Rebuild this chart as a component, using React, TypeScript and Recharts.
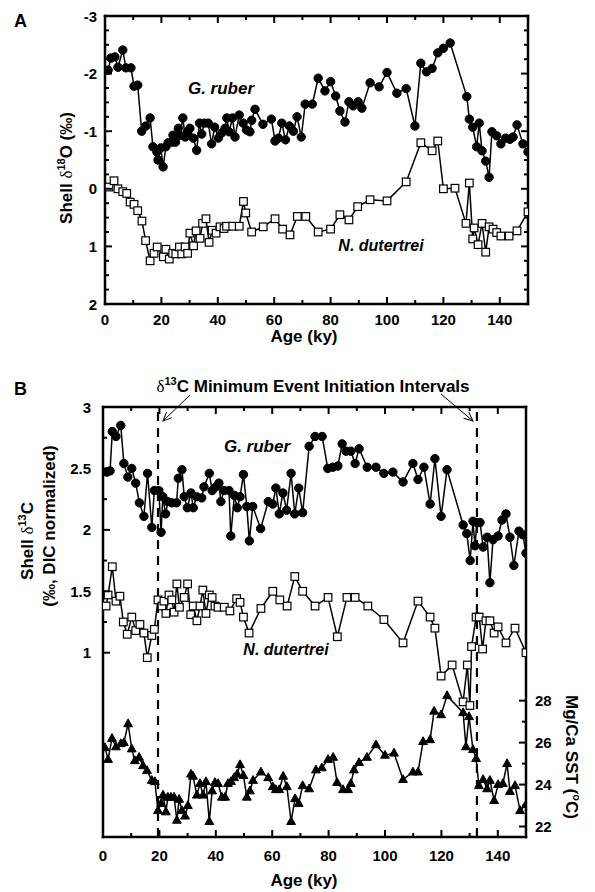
import React from "react";
import { LineChart, Line, XAxis, YAxis, ReferenceLine } from "recharts";

const FONT = '"Liberation Sans", Arial, Helvetica, sans-serif';
const SERIF = '"Liberation Serif", "DejaVu Serif", serif';

// ---- axes ----
const ageTicks = [0, 10, 20, 30, 40, 50, 60, 70, 80, 90, 100, 110, 120, 130, 140, 150];
const d18Ticks = [-3, -2.75, -2.5, -2.25, -2, -1.75, -1.5, -1.25, -1, -0.75, -0.5, -0.25, 0, 0.25, 0.5, 0.75, 1, 1.25, 1.5, 1.75, 2];
const d13Ticks = [1, 1.25, 1.5, 1.75, 2, 2.25, 2.5, 2.75, 3];
const sstTicks = [22, 23, 24, 25, 26, 27, 28];

// dashed event lines (ky)
const eventAges = [19.5, 132.6];

// ---- panel A: shell d18O ----
const ageRuberA = [1.1, 2.1, 3.5, 4.6, 6.3, 7.4, 9.2, 10.3, 11.6, 13, 14.5, 16, 17, 18.4, 18.8, 19.8, 20.6, 21.6, 22.4, 23.8, 24.1, 25, 26, 26.6, 27.6, 28.4, 29.3, 30.1, 31.3, 32.5, 33.5, 34.3, 35.2, 36.6, 37.8, 38.9, 40.2, 41.4, 42.6, 43.2, 44, 45.2, 46.1, 47.6, 49, 50.2, 51.4, 52, 53.2, 56, 59, 60.3, 61.5, 62.7, 64, 65.4, 66.8, 68.1, 69.6, 71, 73.5, 75.6, 78, 80, 81.8, 83.3, 85.1, 86.5, 88, 89.8, 91.1, 94, 97.2, 100, 103.5, 106.8, 109.9, 112, 114, 116, 118, 120, 122.4, 128.3, 129.2, 130.4, 131.8, 132.7, 133.7, 135, 136.2, 137.2, 138.9, 140.4, 142.1, 143.6, 144.7, 146.1, 148.2, 150];
const d18RuberA = [-2.06, -2.27, -2.29, -2.11, -2.41, -2.1, -2.1, -1.78, -1.8, -1.0, -1.09, -1.23, -0.73, -0.64, -0.5, -0.71, -0.38, -0.73, -0.8, -0.81, -0.93, -0.81, -1.05, -0.93, -1.23, -0.9, -0.99, -1.05, -0.88, -0.67, -1.14, -0.95, -1.14, -1.14, -0.78, -1.07, -0.88, -0.97, -1.05, -1.23, -0.99, -1.23, -0.9, -1.28, -1.14, -1.02, -0.99, -1.19, -1.38, -1.12, -1.21, -0.83, -0.88, -1.14, -0.85, -1.09, -1.0, -1.25, -0.9, -1.47, -1.47, -1.92, -1.7, -1.86, -1.61, -1.35, -1.16, -1.51, -1.44, -1.51, -1.4, -1.84, -1.77, -2.02, -1.66, -1.74, -1.09, -2.18, -2.03, -2.09, -2.36, -2.44, -2.53, -1.6, -1.21, -1.07, -0.73, -1.14, -0.66, -0.48, -0.2, -0.99, -0.92, -0.78, -0.88, -0.86, -0.9, -1.11, -0.78, -0.64];

const ageDutA = [1.4, 3.2, 4.6, 6.3, 7.7, 8.9, 10.3, 11.6, 13.1, 14.4, 16, 17.4, 18.5, 20.7, 21.6, 22.8, 24, 25.1, 26.4, 27.2, 28.4, 29.3, 30.1, 31.4, 32.3, 33.7, 34.6, 35.8, 36.9, 38, 39.4, 40.8, 42.2, 43.1, 45.3, 47.6, 49.1, 49.9, 52, 56.1, 60.3, 63, 65.6, 68.2, 71.2, 75.6, 80, 83.3, 86.5, 89.6, 94, 100, 106.8, 112, 116, 118, 120, 124.1, 128, 129.2, 130.4, 130.9, 132.3, 133.7, 135, 136.2, 137.6, 138.9, 140.4, 143.3, 146.1, 150];
const d18DutA = [-0.03, -0.14, 0, 0.05, 0.08, 0.23, 0.27, 0.38, 0.56, 0.9, 1.25, 1.12, 1.01, 1.18, 1.05, 1.22, 1.12, 1.13, 1.01, 1.13, 1.01, 1.12, 0.77, 0.99, 0.73, 0.86, 0.6, 0.52, 0.93, 0.72, 0.77, 0.66, 0.69, 0.65, 0.65, 0.65, 0.22, 0.42, 0.75, 0.66, 0.52, 0.7, 0.8, 0.48, 0.48, 0.75, 0.7, 0.45, 0.54, 0.31, 0.19, 0.21, -0.12, -0.8, -0.66, -0.83, 0, -0.01, 0.6, -0.1, 0.87, 0.68, 0.97, 0.6, 1.1, 0.66, 0.7, 0.76, 0.82, 0.82, 0.73, 0.4];

// ---- panel B: shell d13C and Mg/Ca SST ----
const ageRuberB = [1.4, 2.5, 3.3, 4.6, 6.3, 7.4, 8.8, 10.2, 11.6, 12.9, 14.5, 15.8, 17.3, 18.2, 19.8, 20.6, 21.2, 22.2, 23, 24.4, 26.1, 26.7, 28, 28.8, 29.9, 31.2, 32, 33.2, 35, 35.8, 37.7, 38.7, 40, 41.1, 41.8, 42.9, 44.7, 45.3, 46.6, 47.6, 48.6, 49.8, 51, 51.9, 53.1, 55.9, 58.6, 60.2, 61.3, 62.5, 63.8, 65.1, 66.7, 68, 69.4, 70.8, 73.1, 75.2, 77.7, 79.7, 81.5, 83.3, 84.8, 86.2, 87.9, 89.4, 90.8, 93.7, 96.8, 99.6, 102.8, 106.4, 109.9, 111.7, 113.8, 116, 117.7, 119.9, 122, 127.7, 129, 130.2, 131.2, 131.9, 132.6, 133.7, 134.8, 136.2, 137.2, 138.3, 140.1, 141.5, 142.9, 144.3, 145.7, 147.5, 148.9, 150];
const d13RuberB = [2.47, 2.48, 2.8, 2.76, 2.85, 2.54, 2.43, 2.5, 2.38, 2.22, 2.11, 2.46, 2.02, 2.32, 2.32, 1.98, 2.27, 2.13, 2.23, 2.22, 2.22, 2.42, 2.49, 2.27, 2.18, 2.3, 2.18, 2.27, 2.26, 2.35, 2.46, 2.32, 2.35, 2.38, 2.23, 2.32, 2.32, 1.95, 2.28, 2.18, 2.27, 2.45, 2.19, 1.91, 2.19, 2.01, 2.23, 2.21, 2.34, 2.13, 2.3, 2.16, 2.46, 2.13, 2.34, 2.14, 2.68, 2.76, 2.76, 2.5, 2.51, 2.52, 2.7, 2.64, 2.64, 2.54, 2.66, 2.51, 2.51, 2.46, 2.47, 2.39, 2.54, 2.41, 2.51, 2.21, 2.58, 2.11, 2.49, 2.04, 1.97, 1.75, 2.07, 1.87, 2.06, 2.06, 1.86, 1.94, 1.57, 1.92, 1.95, 2.08, 2.13, 1.94, 1.71, 1.99, 1.96, 1.81];

const ageDutB = [1.1, 1.8, 3.3, 4.6, 6, 7.2, 8.6, 10.2, 11.6, 13.1, 14.5, 15.7, 17.3, 18.2, 19.5, 20.9, 21.6, 22.3, 23.4, 24.4, 25.2, 26.2, 27.1, 28.8, 30, 31.1, 32, 33.3, 34.4, 35.4, 36.5, 37.7, 38.7, 39.7, 40.8, 43, 45, 47.4, 48.6, 49.8, 51.8, 56, 60.2, 62.7, 65.3, 68, 70.8, 75.2, 79.8, 83.1, 86.5, 89.4, 93.9, 99.6, 106.4, 111.7, 116, 117.7, 119.9, 123.8, 127.7, 129.2, 130.1, 130.7, 132.3, 133.4, 134.6, 135.8, 137.2, 138.7, 140.1, 142.9, 146.1, 150];
const d13DutB = [1.38, 1.47, 1.7, 1.42, 1.46, 1.25, 1.15, 1.29, 1.18, 1.23, 1.16, 0.96, 1.14, 1.19, 1.43, 1.38, 1.42, 1.32, 1.47, 1.43, 1.33, 1.56, 1.37, 1.45, 1.56, 1.31, 1.38, 1.26, 1.38, 1.51, 1.32, 1.47, 1.45, 1.38, 1.37, 1.37, 1.34, 1.44, 1.41, 1.29, 1.16, 1.36, 1.5, 1.43, 1.38, 1.62, 1.5, 1.38, 1.45, 1.13, 1.45, 1.45, 1.38, 1.27, 1.08, 1.42, 1.29, 1.2, 0.81, 0.9, 0.6, 0.9, 0.57, 1.05, 1.29, 1.29, 1.03, 1.26, 1.26, 1.16, 1.21, 1.08, 1.2, 1.0];

const ageSst = [0.7, 1.8, 3.2, 4.6, 6.3, 7.4, 8.9, 10.2, 11.3, 12.8, 14.2, 15.6, 17.3, 18.4, 19.5, 20.6, 21.3, 22.3, 23, 24.1, 25.2, 26.2, 27, 28, 29.1, 30.1, 31.2, 31.9, 33.3, 34.4, 35.5, 36.5, 37.7, 38.7, 39.7, 40.8, 42.2, 43.3, 44.3, 45.4, 46.5, 47.6, 48.6, 49.8, 51, 52.1, 53.2, 56, 58.6, 60.2, 61.3, 62.5, 63.9, 65.2, 66.7, 68.1, 69.4, 70.8, 73.1, 75.5, 77.6, 79.8, 81.6, 83, 85.1, 86.9, 87.9, 89, 90.8, 93.6, 96.8, 100, 103.2, 106.4, 109.9, 111.7, 113.5, 116, 117.4, 119.9, 122, 127.7, 128.7, 129.8, 131.2, 132.3, 133.3, 134.8, 136.2, 137.2, 138.7, 140.1, 141.8, 143.3, 144.3, 146.1, 147.9, 150];
const sst = [25.76, 25.2, 26.2, 25.8, 25.95, 26.0, 26.9, 25.7, 25.14, 25.3, 24.9, 24.67, 24.2, 24.14, 22.76, 23.1, 23.5, 22.7, 23.4, 23.4, 23.4, 22.3, 23.3, 22.76, 22.5, 23.0, 24.5, 24.4, 23.5, 24.05, 23.5, 24.14, 22.24, 23.7, 24.1, 24.05, 23.4, 23.4, 24.05, 24.14, 24.33, 24.5, 24.95, 24.43, 23.4, 23.7, 24.2, 24.6, 24.33, 23.9, 23.76, 23.76, 24.4, 23.9, 22.24, 23.33, 23.1, 23.95, 23.8, 24.7, 24.8, 25.2, 25.3, 24.1, 23.76, 23.76, 24.05, 24.7, 25.05, 25.3, 25.9, 25.4, 25.5, 24.24, 24.6, 24.6, 26.05, 26.14, 27.5, 27.33, 28.24, 27.43, 25.8, 27.24, 25.67, 25.24, 23.95, 24.24, 23.8, 24.2, 23.24, 24.0, 24.05, 25.0, 23.67, 23.95, 22.76, 23.05];

const pairs = (ages: number[], vals: number[]) => ages.map((age, i) => ({ age, v: vals[i] }));

type Side = "bottom" | "top" | "left" | "right";
const isMult = (v: number, m: number) => Math.abs(v / m - Math.round(v / m)) < 1e-6;

// ticks point into the plot; only majors get a label
function makeTick(side: Side, majorEvery: number, showLabel: boolean, gap = 8) {
  return (props: any) => {
    const { x, y, payload } = props;
    const v = Number(payload.value);
    const major = isMult(v, majorEvery);
    const len = major ? 7 : 4;
    let x2 = x;
    let y2 = y;
    if (side === "bottom") y2 = y - len;
    if (side === "top") y2 = y + len;
    if (side === "left") x2 = x + len;
    if (side === "right") x2 = x - len;
    let label = null;
    if (showLabel && major) {
      const tx = side === "left" ? x - gap : side === "right" ? x + gap : x;
      const ty = side === "bottom" ? y + gap : y + 5.5;
      const anchor = side === "left" ? "end" : side === "right" ? "start" : "middle";
      label = (
        <text x={tx} y={ty} textAnchor={anchor} fontFamily={FONT} fontWeight="bold" fontSize={15} fill="#000">
          {String(v)}
        </text>
      );
    }
    return (
      <g>
        <line x1={x} y1={y} x2={x2} y2={y2} stroke="#000" strokeWidth={2} />
        {label}
      </g>
    );
  };
}

const axisLine = { stroke: "#000", strokeWidth: 2.5, strokeLinecap: "square" as const };

const Circle = (p: any) =>
  p.cx == null ? null : <circle key={`c${p.index}`} cx={p.cx} cy={p.cy} r={4.2} fill="#000" stroke="#000" />;
const Square = (p: any) =>
  p.cx == null ? null : (
    <rect key={`s${p.index}`} x={p.cx - 3.8} y={p.cy - 3.8} width={7.6} height={7.6} fill="#fff" stroke="#000" strokeWidth={1.2} />
  );
const Triangle = (p: any) =>
  p.cx == null ? null : (
    <polygon
      key={`t${p.index}`}
      points={`${p.cx},${p.cy - 4.8} ${p.cx + 4.4},${p.cy + 3} ${p.cx - 4.4},${p.cy + 3}`}
      fill="#000"
      stroke="#000"
    />
  );

function PanelA() {
  return (
    <LineChart width={595} height={345} margin={{ top: 0, right: 0, bottom: 0, left: 0 }}>
      <XAxis xAxisId="b" type="number" dataKey="age" domain={[0, 150]} ticks={ageTicks} interval={0} allowDataOverflow
        height={41} axisLine={axisLine} tickLine={false} tickSize={0} tickMargin={0} tick={makeTick("bottom", 20, true, 21)} />
      <XAxis xAxisId="t" orientation="top" type="number" dataKey="age" domain={[0, 150]} ticks={ageTicks} interval={0} allowDataOverflow
        height={16} axisLine={axisLine} tickLine={false} tickSize={0} tickMargin={0} tick={makeTick("top", 20, false)} />
      <YAxis yAxisId="l" type="number" domain={[-3, 2]} reversed ticks={d18Ticks} interval={0} allowDataOverflow
        width={105} axisLine={axisLine} tickLine={false} tickSize={0} tickMargin={0} tick={makeTick("left", 1, true, 8)} />
      <YAxis yAxisId="r" orientation="right" type="number" domain={[-3, 2]} reversed ticks={d18Ticks} interval={0} allowDataOverflow
        width={67} axisLine={axisLine} tickLine={false} tickSize={0} tickMargin={0} tick={makeTick("right", 1, false)} />
      <Line xAxisId="b" yAxisId="l" data={pairs(ageDutA, d18DutA)} dataKey="v" type="linear" stroke="#000" strokeWidth={1.5}
        dot={Square} isAnimationActive={false} />
      <Line xAxisId="b" yAxisId="l" data={pairs(ageRuberA, d18RuberA)} dataKey="v" type="linear" stroke="#000" strokeWidth={1.5}
        dot={Circle} isAnimationActive={false} />
    </LineChart>
  );
}

function PanelB() {
  return (
    <LineChart width={595} height={532} margin={{ top: 31, right: 0, bottom: 0, left: 0 }}>
      <XAxis xAxisId="b" type="number" dataKey="age" domain={[0, 150]} ticks={ageTicks} interval={0} allowDataOverflow
        height={55} axisLine={axisLine} tickLine={false} tickSize={0} tickMargin={0} tick={makeTick("bottom", 20, true, 24)} />
      <XAxis xAxisId="t" orientation="top" type="number" dataKey="age" domain={[0, 150]} ticks={ageTicks} interval={0} allowDataOverflow
        height={16} axisLine={axisLine} tickLine={false} tickSize={0} tickMargin={0} tick={makeTick("top", 20, false)} />
      <YAxis yAxisId="l" type="number" domain={[-0.5, 3]} ticks={d13Ticks} interval={0} allowDataOverflow
        width={103} axisLine={axisLine} tickLine={false} tickSize={0} tickMargin={0} tick={makeTick("left", 0.5, true, 12)} />
      <YAxis yAxisId="r" orientation="right" type="number" domain={[21.5, 42]} ticks={sstTicks} interval={0} allowDataOverflow
        width={69} axisLine={axisLine} tickLine={false} tickSize={0} tickMargin={0} tick={makeTick("right", 2, true, 9)} />
      {eventAges.map((a) => (
        <ReferenceLine key={a} xAxisId="b" yAxisId="l" x={a} stroke="#000" strokeWidth={2.2} strokeDasharray="9 7" />
      ))}
      <Line xAxisId="b" yAxisId="r" data={pairs(ageSst, sst)} dataKey="v" type="linear" stroke="#000" strokeWidth={1.5}
        dot={Triangle} isAnimationActive={false} />
      <Line xAxisId="b" yAxisId="l" data={pairs(ageDutB, d13DutB)} dataKey="v" type="linear" stroke="#000" strokeWidth={1.5}
        dot={Square} isAnimationActive={false} />
      <Line xAxisId="b" yAxisId="l" data={pairs(ageRuberB, d13RuberB)} dataKey="v" type="linear" stroke="#000" strokeWidth={1.5}
        dot={Circle} isAnimationActive={false} />
    </LineChart>
  );
}

function Labels() {
  const bold = { fontFamily: FONT, fontWeight: "bold" as const, fill: "#000" };
  const it = { ...bold, fontStyle: "italic" as const };
  return (
    <svg width={595} height={892} style={{ position: "absolute", left: 0, top: 0, pointerEvents: "none" }}>
      <defs>
        <marker id="arr" markerWidth="10" markerHeight="10" refX="9" refY="5" orient="auto" markerUnits="userSpaceOnUse">
          <path d="M0,1 L9,5 L0,9" fill="none" stroke="#000" strokeWidth={1} />
        </marker>
      </defs>
      <text x={14} y={27} fontSize={18} {...bold}>A</text>
      <text x={14} y={395} fontSize={18} {...bold}>B</text>

      <text x={304} y={342} fontSize={17} textAnchor="middle" {...bold}>Age (ky)</text>
      <text x={304} y={886} fontSize={17} textAnchor="middle" {...bold}>Age (ky)</text>

      <text transform="translate(72,168) rotate(-90)" fontSize={17} textAnchor="middle" {...bold}>
        Shell <tspan fontFamily={SERIF} fontWeight="normal">δ</tspan>
        <tspan fontSize={11} dy={-7}>18</tspan>
        <tspan dy={7}>O (‰)</tspan>
      </text>
      <text transform="translate(33,541) rotate(-90)" fontSize={17} textAnchor="middle" {...bold}>
        Shell <tspan fontFamily={SERIF} fontWeight="normal">δ</tspan>
        <tspan fontSize={11} dy={-7}>13</tspan>
        <tspan dy={7}>C</tspan>
      </text>
      <text transform="translate(55,526) rotate(-90)" fontSize={17} textAnchor="middle" {...bold}>
        (‰, DIC normalized)
      </text>
      <text transform="translate(566,757) rotate(90)" fontSize={17} textAnchor="middle" {...bold}>
        Mg/Ca SST (<tspan fontSize={11} dy={-7}>o</tspan>
        <tspan dy={7}>C)</tspan>
      </text>

      <text x={221} y={94} fontSize={17} textAnchor="middle" {...it}>G. ruber</text>
      <text x={381} y={251} fontSize={16} textAnchor="middle" {...it}>N. dutertrei</text>
      <text x={257} y={452} fontSize={17} textAnchor="middle" {...it}>G. ruber</text>
      <text x={286} y={655} fontSize={16} textAnchor="middle" {...it}>N. dutertrei</text>

      <text x={313} y={392} fontSize={17} textAnchor="middle" {...bold}>
        <tspan fontFamily={SERIF} fontWeight="normal">δ</tspan>
        <tspan fontSize={11} dy={-7}>13</tspan>
        <tspan dy={7}>C Minimum Event Initiation Intervals</tspan>
      </text>
      <line x1={190} y1={395} x2={163} y2={421} stroke="#000" strokeWidth={1} markerEnd="url(#arr)" />
      <line x1={441} y1={394} x2={473} y2={421} stroke="#000" strokeWidth={1} markerEnd="url(#arr)" />
    </svg>
  );
}

export default function App() {
  return (
    <div style={{ position: "absolute", left: 0, top: 0, width: 595, height: 892, background: "#fff" }}>
      <div style={{ position: "absolute", left: 0, top: 0 }}>
        <PanelA />
      </div>
      <div style={{ position: "absolute", left: 0, top: 360 }}>
        <PanelB />
      </div>
      <Labels />
    </div>
  );
}
